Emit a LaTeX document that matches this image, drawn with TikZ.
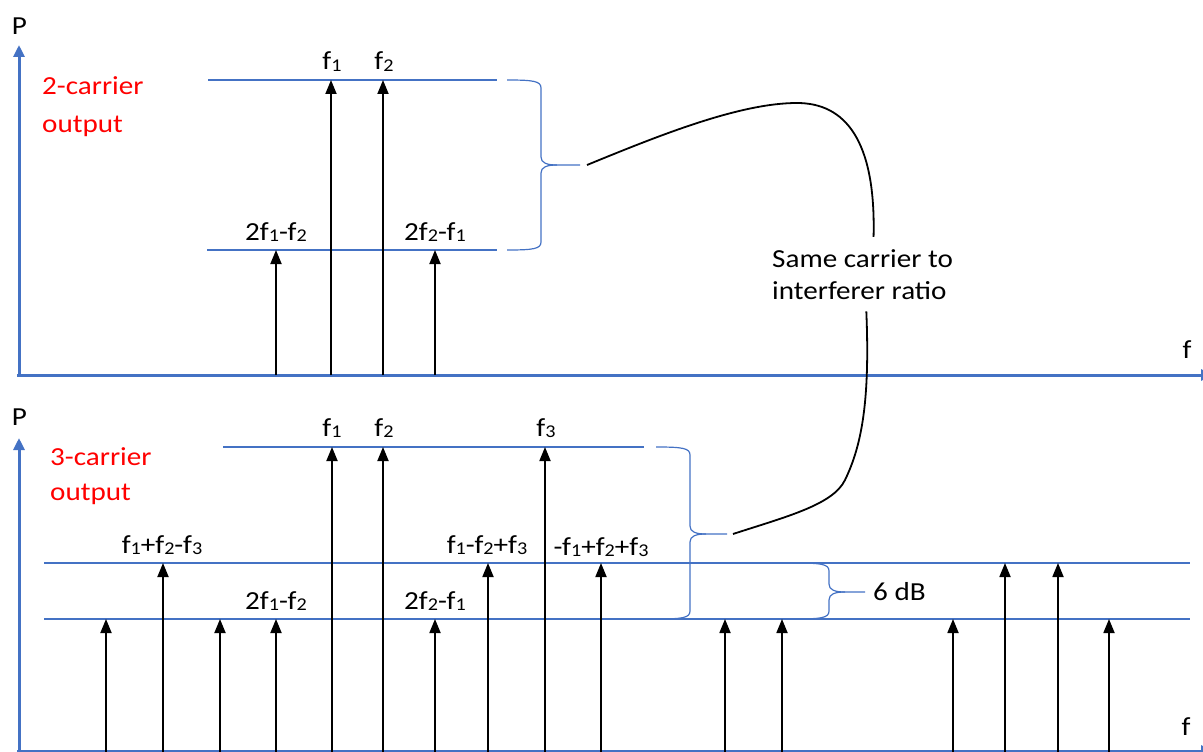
\documentclass[tikz,border=0pt]{standalone}
\usepackage{fontspec}
\setmainfont{Carlito}[FakeStretch=1.12]
\usetikzlibrary{arrows.meta}
\definecolor{axblue}{HTML}{4472C4}
\definecolor{lblred}{HTML}{FF0000}
\newcommand\sub[1]{\raisebox{-1.5pt}{\fontsize{18}{18}\selectfont #1}}
\newcommand\mybrace[6]{%
  \draw[bracket] (#1,#4) .. controls ({#2-8},#4) and (#2,{#4+1}) .. (#2,{#4+8}) -- (#2,{#5-8})
     .. controls (#2,{#5-2}) and ({#2+6},#5) .. ({#2+16},#5) -- (#3,#5);
  \draw[bracket] (#1,#6) .. controls ({#2-8},#6) and (#2,{#6-1}) .. (#2,{#6-8}) -- (#2,{#5+8})
     .. controls (#2,{#5+2}) and ({#2+6},#5) .. ({#2+16},#5);
}
\begin{document}
\begin{tikzpicture}[x=1pt,y=-1pt,
  axisline/.style={draw=axblue,line width=3pt,-{Triangle[width=11pt,length=12pt]}},
  level/.style={draw=axblue,line width=1.2pt},
  bracket/.style={draw=axblue,line width=1.2pt},
  tone/.style={draw=black,line width=1.8pt,-{Triangle[width=11pt,length=14pt]}},
  lbl/.style={font=\fontsize{26}{30}\selectfont,inner sep=0pt,anchor=base},
  redlbl/.style={font=\fontsize{26}{30}\selectfont,text=lblred,inner sep=0pt,anchor=base west},
  conn/.style={draw=black,line width=1.8pt}]
\useasboundingbox (0,0) rectangle (1203,752);

% ---------- top panel ----------
\draw[axisline] (19,376) -- (19,45);
\draw[axisline] (17,375) -- (1213,375);
\node[lbl] (pt) at (19.5,35) {P};
\node[lbl] (ft) at (1187,358) {f};
\node[redlbl] (r1a) at (42,95) {2-carrier};
\node[redlbl] (r1b) at (42,132) {output};

\draw[level] (208,80) -- (497,80);
\draw[level] (207,250) -- (497,250);

\draw[tone] (276,375) -- (276,250);
\draw[tone] (331,375) -- (331,80);
\draw[tone] (383,375) -- (383,80);
\draw[tone] (435,375) -- (435,250);

\node[lbl] (lt1) at (332,70) {f\sub{1}};
\node[lbl] (lt2) at (384,70) {f\sub{2}};
\node[lbl] (lt3) at (276,240) {2f\sub{1}-f\sub{2}};
\node[lbl] (lt4) at (435,240) {2f\sub{2}-f\sub{1}};

\mybrace{507}{541}{580}{80}{165}{250}
\coordinate (c1) at (587,165);

% ---------- bottom panel ----------
\draw[axisline] (19,752) -- (19,438);
\draw[axisline] (17,751) -- (1213,751);
\node[lbl] (pb) at (19.5,425) {P};
\node[lbl] (fb) at (1186,735) {f};
\node[redlbl] (r2a) at (50,465) {3-carrier};
\node[redlbl] (r2b) at (50,500) {output};

\draw[level] (223,447) -- (644,447);
\draw[level] (44,563) -- (1190,563);
\draw[level] (44,619) -- (1190,619);

\foreach \x in {106,220,276,435,725,782,953,1109} \draw[tone] (\x,752) -- (\x,619);
\foreach \x in {163,488,601,1005,1058} \draw[tone] (\x,752) -- (\x,563);
\foreach \x in {332,383,545} \draw[tone] (\x,752) -- (\x,447);

\node[lbl] (lb1) at (332,436) {f\sub{1}};
\node[lbl] (lb2) at (384,436) {f\sub{2}};
\node[lbl] (lb3) at (546,436) {f\sub{3}};
\node[lbl] (lb4) at (162,553) {f\sub{1}+f\sub{2}-f\sub{3}};
\node[lbl] (lb5) at (487,553) {f\sub{1}-f\sub{2}+f\sub{3}};
\node[lbl] (lb6) at (601,555) {-f\sub{1}+f\sub{2}+f\sub{3}};
\node[lbl] (lb7) at (276,609) {2f\sub{1}-f\sub{2}};
\node[lbl] (lb8) at (435,609) {2f\sub{2}-f\sub{1}};

\mybrace{656}{690}{727}{447}{534}{619}
\coordinate (c2) at (733,534);

\mybrace{794}{829}{865}{563}{592}{619}
\node[lbl,anchor=base west] (db) at (873,600) {6 dB};

% ---------- ratio note ----------
\node[lbl,anchor=base west,inner xsep=0pt,inner ysep=12pt] (t1) at (772,267) {Same carrier to};
\node[lbl,anchor=base west,inner xsep=0pt,inner ysep=12pt] (t2) at (772,299) {interferer ratio};

\draw[conn] (c1) .. controls (660,135) and (740,103) .. (797,103)
  .. controls (845,103) and (876,140) .. ([xshift=11pt]t1.north);
\draw[conn] ([xshift=7pt]t2.south) .. controls (870,400) and (862,445) .. (845,480)
  .. controls (833,505) and (785,517) .. (c2);
\end{tikzpicture}
\end{document}
